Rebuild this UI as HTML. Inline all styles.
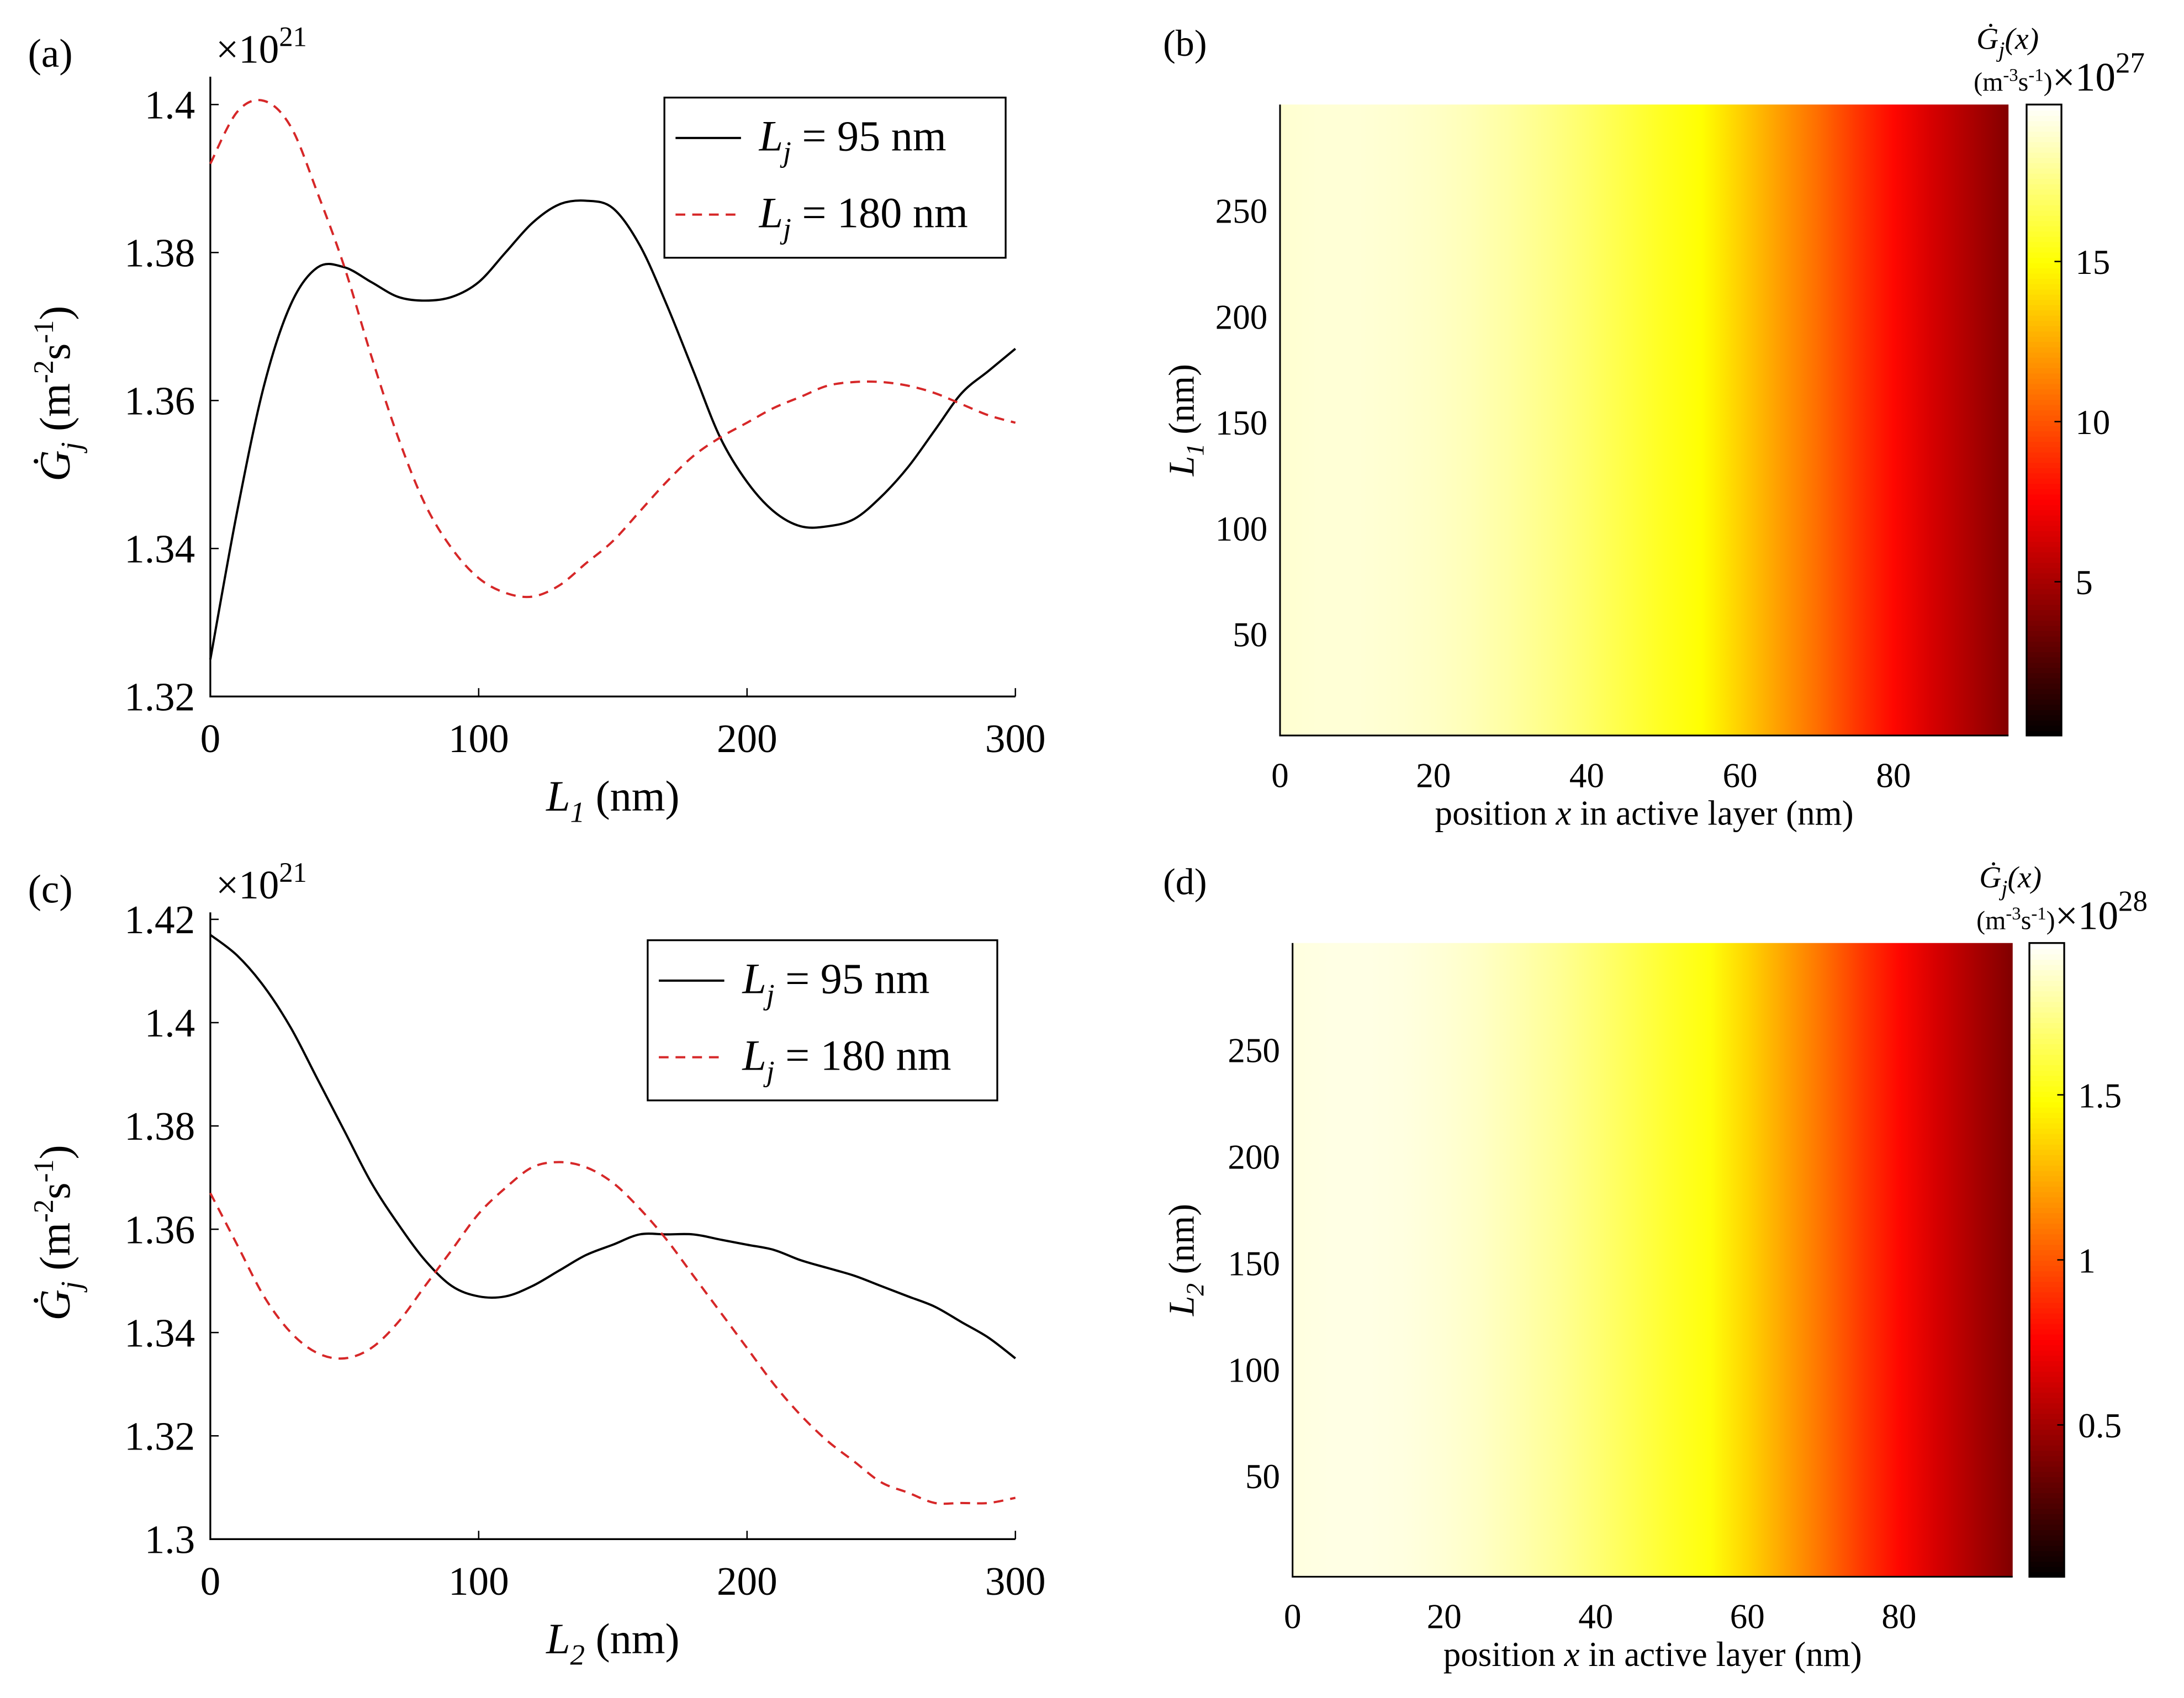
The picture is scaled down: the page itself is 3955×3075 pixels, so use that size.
<!DOCTYPE html>
<html><head><meta charset="utf-8"><style>
html,body{margin:0;padding:0;background:#fff;}
svg{display:block;font-family:"Liberation Serif",serif;}
</style></head><body>
<svg id="fig" width="3955" height="3075" viewBox="0 0 1568 1219" xmlns="http://www.w3.org/2000/svg">
<rect width="1568" height="1219" fill="#fff"/>
<defs>
<linearGradient id="gb" x1="0" y1="0" x2="1" y2="0"></linearGradient>
<linearGradient id="gd" x1="0" y1="0" x2="1" y2="0"></linearGradient>
</defs>
<g id="root"></g>
</svg>
<script>
// ---- data ----
const L = [0,10,20,30,40,50,60,70,80,90,100,110,120,130,140,150,160,170,180,190,200,210,220,230,240,250,260,270,280,290,300];
const a95 = [1.325,1.345,1.362,1.373,1.378,1.378,1.376,1.374,1.3735,1.374,1.376,1.380,1.384,1.3865,1.387,1.386,1.381,1.373,1.364,1.355,1.349,1.345,1.343,1.343,1.344,1.347,1.351,1.356,1.361,1.364,1.367];
const a180 = [1.392,1.399,1.4005,1.397,1.388,1.378,1.366,1.355,1.346,1.340,1.336,1.334,1.3335,1.335,1.338,1.341,1.345,1.349,1.3525,1.355,1.357,1.359,1.3605,1.362,1.3625,1.3625,1.362,1.361,1.3595,1.358,1.357];
const c95 = [1.417,1.413,1.407,1.399,1.389,1.379,1.369,1.361,1.354,1.349,1.347,1.347,1.349,1.352,1.355,1.357,1.359,1.359,1.359,1.358,1.357,1.356,1.354,1.3525,1.351,1.349,1.347,1.345,1.342,1.339,1.335];
const c180 = [1.367,1.357,1.347,1.340,1.336,1.335,1.337,1.342,1.349,1.356,1.363,1.368,1.372,1.373,1.372,1.369,1.364,1.358,1.351,1.344,1.337,1.330,1.324,1.319,1.315,1.311,1.309,1.307,1.307,1.307,1.308];
const hx = [0,5,10,15,20,25,30,35,40,45,50,55,60,65,70,75,80,85,90,95];
const hb = [19.0,19.1,19.1,19.0,18.8,18.5,18.1,17.6,17.0,16.3,15.6,15.0,13.6,12.2,10.8,9.2,7.8,6.4,5.2,4.0];
const hd = [1.90,1.91,1.91,1.90,1.88,1.85,1.81,1.76,1.70,1.63,1.56,1.50,1.36,1.22,1.08,0.92,0.78,0.64,0.52,0.40];
const xTicksLine = [0,100,200,300];
const aYTicks = [1.32,1.34,1.36,1.38,1.4];
const cYTicks = [1.3,1.32,1.34,1.36,1.38,1.4,1.42];
const hXTicks = [0,20,40,60,80];
const hYTicks = [50,100,150,200,250];
const cbbTicks = [5,10,15];
const cbdTicks = [0.5,1,1.5];

const NS="http://www.w3.org/2000/svg";
const root=document.getElementById('root');
function el(tag,attrs,parent,text){const e=document.createElementNS(NS,tag);for(const k in attrs)e.setAttribute(k,attrs[k]);if(text!==undefined)e.innerHTML=text;(parent||root).appendChild(e);return e;}
function lin(d0,d1,p0,p1){return v=>p0+(v-d0)*(p1-p0)/(d1-d0);}
function hot(f){f=Math.max(0,Math.min(1,f));const r=Math.min(1,f/0.375),g=Math.max(0,Math.min(1,(f-0.375)/0.375)),b=Math.max(0,(f-0.75)/0.25);return `rgb(${Math.round(r*255)},${Math.round(g*255)},${Math.round(b*255)})`;}
function smooth(p){let d=`M${p[0][0]},${p[0][1]}`;for(let i=0;i<p.length-1;i++){const p0=p[Math.max(0,i-1)],p1=p[i],p2=p[i+1],p3=p[Math.min(p.length-1,i+2)];
  d+=` C${p1[0]+(p2[0]-p0[0])/6},${p1[1]+(p2[1]-p0[1])/6} ${p2[0]-(p3[0]-p1[0])/6},${p2[1]-(p3[1]-p1[1])/6} ${p2[0]},${p2[1]}`;}return d;}

function linePanel(o){
  const g=el('g',{});
  
  
  const X=lin(0,300,151,729), Y=lin(o.y0,o.y1,o.p0,o.p1);
  const ax=el('path',{d:`M151,${o.top} V${o.p0} H729`,stroke:'#000','stroke-width':1.3,fill:'none'},g);
  
  xTicksLine.forEach(t=>{el('line',{x1:X(t),x2:X(t),y1:o.p0,y2:o.p0-6,stroke:'#000'},g);
    const tx=el('text',{x:X(t),y:o.p0+40,'font-size':29,'text-anchor':'middle'},g,t);
    });
  o.yt.forEach(t=>{el('line',{x1:151,x2:157,y1:Y(t),y2:Y(t),stroke:'#000'},g);
    const tx=el('text',{x:140,y:Y(t)+10,'font-size':29,'text-anchor':'end'},g,String(t));
    });
  const s1=el('path',{d:smooth(L.map((v,i)=>[X(v),Y(o.s95[i])])),fill:'none',stroke:'#000','stroke-width':1.6},g);
  
  const s2=el('path',{d:smooth(L.map((v,i)=>[X(v),Y(o.s180[i])])),fill:'none',stroke:'#d62728','stroke-width':1.6,'stroke-dasharray':'7,5'},g);
  
  const t1=el('text',{x:20,y:o.lab+8,'font-size':29},g,o.label);
  const t2=el('text',{x:155,y:o.lab+5,'font-size':29},g,'×10<tspan font-size="20" dy="-12">21</tspan>');
  const xl=el('text',{x:440,y:o.p0+82,'font-size':31,'text-anchor':'middle'},g,'<tspan font-style="italic">L</tspan><tspan font-style="italic" font-size="21" dy="8">'+o.xs+'</tspan><tspan dy="-8"> (nm)</tspan>');
  
  const yl=el('text',{transform:`translate(50,${(o.p0+o.top)/2+5}) rotate(-90)`,'font-size':31,'text-anchor':'middle'},g,'<tspan font-style="italic">Ġ</tspan><tspan font-style="italic" font-size="21" dy="8">j</tspan><tspan dy="-8"> (m</tspan><tspan font-size="20" dy="-12">-2</tspan><tspan dy="12">s</tspan><tspan font-size="20" dy="-12">-1</tspan><tspan dy="12">)</tspan>');
  
  const lg=el('g',{},g);
  const [lx,ly,lw,lh]=o.leg;
  el('rect',{x:lx,y:ly,width:lw,height:lh,fill:'#fff',stroke:'#000','stroke-width':1.3},lg);
  el('line',{x1:lx+8,x2:lx+55,y1:ly+29,y2:ly+29,stroke:'#000','stroke-width':1.6},lg);
  el('line',{x1:lx+8,x2:lx+55,y1:ly+84,y2:ly+84,stroke:'#d62728','stroke-width':1.6,'stroke-dasharray':'7,5'},lg);
  const e1=el('text',{x:lx+68,y:ly+38,'font-size':31},lg,'<tspan font-style="italic">L</tspan><tspan font-style="italic" font-size="21" dy="8">j</tspan><tspan dy="-8"> = 95 nm</tspan>');
  const e2=el('text',{x:lx+68,y:ly+93,'font-size':31},lg,'<tspan font-style="italic">L</tspan><tspan font-style="italic" font-size="21" dy="8">j</tspan><tspan dy="-8"> = 180 nm</tspan>');
}
linePanel({name:'panel-a',label:'(a)',lab:40,top:55,p0:500,p1:75,y0:1.32,y1:1.40,yt:aYTicks,s95:a95,s180:a180,xs:'1',leg:[477,70,245,115]});
linePanel({name:'panel-c',label:'(c)',lab:640,top:655,p0:1105,p1:660,y0:1.30,y1:1.42,yt:cYTicks,s95:c95,s180:c180,xs:'2',leg:[465,675,251,115]});

function heatPanel(o){
  const g=el('g',{});
  const X=lin(0,95,o.x0,o.x1), Y=lin(0,300,o.yb,o.yt0);
  const grad=document.getElementById(o.gid);
  o.vals.forEach((v,i)=>{el('stop',{offset:(hx[i]/95),'stop-color':hot((v-o.cmin)/(o.cmax-o.cmin))},grad);});
  const r=el('rect',{x:o.x0,y:o.ytop,width:o.x1-o.x0,height:o.ybot-o.ytop,fill:`url(#${o.gid})`},g);
  
  el('path',{d:`M${o.x0},${o.ytop} V${o.ybot} H${o.x1}`,stroke:'#000','stroke-width':1.2,fill:'none'},g);
  hXTicks.forEach(t=>{const tx=el('text',{x:X(t),y:o.ybot+37,'font-size':25,'text-anchor':'middle'},g,t);});
  hYTicks.forEach(t=>{const tx=el('text',{x:o.x0-9,y:Y(t)+9,'font-size':25,'text-anchor':'end'},g,t);});
  const xl=el('text',{x:(o.x0+o.x1)/2,y:o.ybot+64,'font-size':25,'text-anchor':'middle'},g,'position <tspan font-style="italic">x</tspan> in active layer (nm)');
  const yl=el('text',{transform:`translate(857,${(o.ytop+o.ybot)/2}) rotate(-90)`,'font-size':26,'text-anchor':'middle'},g,'<tspan font-style="italic">L</tspan><tspan font-style="italic" font-size="18" dy="7">'+o.ys+'</tspan><tspan dy="-7"> (nm)</tspan>');
  const pl=el('text',{x:835,y:o.ytop-35,'font-size':27},g,o.label);
  const cg=el('g',{},g);
  const C=lin(o.cmin,o.cmax,o.ybot,o.ytop);
  const n=120;for(let k=0;k<n;k++){const f0=k/n;el('rect',{x:o.cbx,y:o.ybot-(k+1)*(o.ybot-o.ytop)/n,width:25,height:(o.ybot-o.ytop)/n+0.6,fill:hot(f0+0.5/n)},cg);}
  el('rect',{x:o.cbx,y:o.ytop,width:25,height:o.ybot-o.ytop,fill:'none',stroke:'#000','stroke-width':1.3},cg);
  o.cticks.forEach(t=>{el('line',{x1:o.cbx+25,x2:o.cbx+20,y1:C(t),y2:C(t),stroke:'#000'},cg);const tx=el('text',{x:o.cbx+35,y:C(t)+9,'font-size':25},cg,String(t));});
  const ct=el('text',{x:o.cbx-36,y:o.ytop-40,'font-size':22,'font-style':'italic'},cg,'Ġ<tspan font-size="16" dy="6">j</tspan><tspan dy="-6">(x)</tspan>');
  const ce=el('text',{x:o.cbx-38,y:o.ytop-10,'font-size':19},cg,'(m<tspan font-size="13" dy="-7">-3</tspan><tspan dy="7">s</tspan><tspan font-size="13" dy="-7">-1</tspan><tspan dy="7">)</tspan><tspan font-size="29">×10</tspan><tspan font-size="21" dy="-13">'+o.exp+'</tspan>');
}
heatPanel({name:'panel-b',label:'(b)',gid:'gb',vals:hb,x0:919,x1:1442,ytop:75,ybot:528,yb:531,yt0:75,cmin:0.2,cmax:19.9,cbx:1455,cticks:cbbTicks,ys:'1',exp:'27'});
heatPanel({name:'panel-d',label:'(d)',gid:'gd',vals:hd,x0:928,x1:1445,ytop:677,ybot:1132,yb:1136,yt0:677,cmin:0.04,cmax:1.96,cbx:1457,cticks:cbdTicks,ys:'2',exp:'28'});
</script>
</body></html>
